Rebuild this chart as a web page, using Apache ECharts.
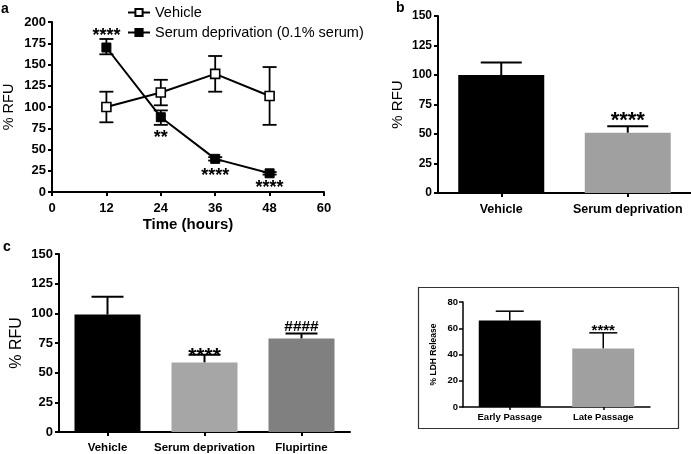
<!DOCTYPE html>
<html><head><meta charset="utf-8">
<script src="https://cdn.jsdelivr.net/npm/echarts@6/dist/echarts.min.js"></script>
<style>html,body{margin:0;padding:0;background:#fff}#c{width:691px;height:454px}</style>
</head><body><div id="c"></div>
<script>
// ---- Panel a: time course ----
const timeHours = [12, 24, 36, 48];
const vehicleMean = [100, 117, 139, 113];
const vehicleLow = [82, 102, 118, 79];
const vehicleHigh = [118, 132, 160, 147];
const serumMean = [170, 88, 39, 22];
const serumLow = [162, 79, 37, 20.5];
const serumHigh = [180, 96, 41, 23.5];
const serumSig = ['****', '**', '****', '****'];
const aXTicks = [0, 12, 24, 36, 48, 60];
// ---- Panel b ----
const bCats = ['Vehicle', 'Serum deprivation'];
const bMean = [100, 51];
const bHigh = [110.5, 56.5];
const bSig = ['', '****'];
// ---- Panel c ----
const cCats = ['Vehicle', 'Serum deprivation', 'Flupirtine'];
const cMean = [99, 58.5, 78.7];
const cHigh = [114, 65, 83];
const cSig = ['', '****', '####'];
// ---- Inset: LDH release ----
const dCats = ['Early Passage', 'Late Passage'];
const dMean = [66, 44.5];
const dHigh = [73, 56.5];
const dSig = ['', '****'];

const FF = '"Liberation Sans", Arial, sans-serif';
const chart = echarts.init(document.getElementById('c'), null, {renderer: 'canvas'});

function axisCommon(lw, fs, margin, extra) {
  return Object.assign({
    axisLine: {show: true, lineStyle: {color: '#000', width: lw}},
    axisTick: {show: true, length: 4, lineStyle: {color: '#000', width: lw}},
    axisLabel: {color: '#000', fontFamily: FF, fontWeight: 'bold', fontSize: fs, margin: margin, interval: 0},
    splitLine: {show: false}
  }, extra);
}

function errBars(capW, lw) {
  return function (params, api) {
    const b = api.coord([api.value(0), api.value(1)]);
    const t = api.coord([api.value(0), api.value(2)]);
    return {type: 'group', children: [
      {type: 'line', shape: {x1: b[0], y1: b[1], x2: t[0], y2: t[1]}, style: {stroke: '#000', lineWidth: lw}},
      {type: 'line', shape: {x1: t[0] - capW / 2, y1: t[1], x2: t[0] + capW / 2, y2: t[1]}, style: {stroke: '#000', lineWidth: lw}}
    ]};
  };
}
function errBarsBoth(capW, lw) {
  return function (params, api) {
    const lo = api.coord([api.value(0), api.value(1)]);
    const hi = api.coord([api.value(0), api.value(2)]);
    return {type: 'group', children: [
      {type: 'line', shape: {x1: lo[0], y1: lo[1], x2: hi[0], y2: hi[1]}, style: {stroke: '#000', lineWidth: lw}},
      {type: 'line', shape: {x1: hi[0] - capW / 2, y1: hi[1], x2: hi[0] + capW / 2, y2: hi[1]}, style: {stroke: '#000', lineWidth: lw}},
      {type: 'line', shape: {x1: lo[0] - capW / 2, y1: lo[1], x2: lo[0] + capW / 2, y2: lo[1]}, style: {stroke: '#000', lineWidth: lw}}
    ]};
  };
}
function sigText(texts, dyFn, fontFn) {
  return function (params, api) {
    const i = params.dataIndex;
    const txt = texts[i];
    if (!txt) return null;
    const p = api.coord([api.value(0), api.value(1)]);
    const f = fontFn(txt, i);
    return {type: 'text', x: p[0], y: p[1] + dyFn(txt, i), style: {
      text: txt, font: f, fill: '#000', align: 'center', verticalAlign: 'middle',
      textAlign: 'center', textVerticalAlign: 'middle'}};
  };
}

const option = {
  animation: false,
  backgroundColor: '#fff',
  textStyle: {fontFamily: FF},
  grid: [
    {left: 50, top: 22, width: 274, height: 170},
    {left: 438, top: 16, width: 253, height: 177},
    {left: 59, top: 254, width: 291, height: 179},
    {left: 463, top: 302, width: 187, height: 105}
  ],
  legend: {
    data: ['Vehicle', 'Serum deprivation (0.1% serum)'],
    orient: 'vertical', left: 122, top: 0, itemGap: 5, itemWidth: 22, itemHeight: 9,
    textStyle: {color: '#000', fontFamily: FF, fontSize: 14.5}
  },
  xAxis: [
    axisCommon(2, 13, 10, {gridIndex: 0, type: 'value', min: 0, max: 60, interval: 12,
      name: 'Time (hours)', nameLocation: 'middle', nameGap: 25,
      nameTextStyle: {color: '#000', fontFamily: FF, fontWeight: 'bold', fontSize: 15}}),
    axisCommon(2, 12.5, 10, {gridIndex: 1, type: 'category', data: bCats, axisTick: {show: true, alignWithLabel: true, length: 4, lineStyle: {color: '#000', width: 2}}}),
    axisCommon(2, 11.5, 10, {gridIndex: 2, type: 'category', data: cCats, axisTick: {show: true, alignWithLabel: true, length: 4, lineStyle: {color: '#000', width: 2}}}),
    axisCommon(1.5, 9.5, 5, {gridIndex: 3, type: 'category', data: dCats, axisTick: {show: true, alignWithLabel: true, length: 3, lineStyle: {color: '#000', width: 1.5}}})
  ],
  yAxis: [
    axisCommon(2, 13, 6, {gridIndex: 0, type: 'value', min: 0, max: 200, interval: 25,
      name: '% RFU', nameLocation: 'middle', nameGap: 36, nameRotate: 90,
      nameTextStyle: {color: '#000', fontFamily: FF, fontSize: 14.5}}),
    axisCommon(2, 12, 6, {gridIndex: 1, type: 'value', min: 0, max: 150, interval: 25,
      name: '% RFU', nameLocation: 'middle', nameGap: 33, nameRotate: 90,
      nameTextStyle: {color: '#000', fontFamily: FF, fontSize: 15}}),
    axisCommon(2, 13, 6, {gridIndex: 2, type: 'value', min: 0, max: 150, interval: 25,
      name: '% RFU', nameLocation: 'middle', nameGap: 34, nameRotate: 90,
      nameTextStyle: {color: '#000', fontFamily: FF, fontSize: 16}}),
    axisCommon(1.5, 9.5, 5, {gridIndex: 3, type: 'value', min: 0, max: 80, interval: 20,
      name: '% LDH Release', nameLocation: 'middle', nameGap: 25, nameRotate: 90,
      nameTextStyle: {color: '#000', fontFamily: FF, fontWeight: 'bold', fontSize: 8.5}})
  ],
  graphic: [
    {type: 'text', left: 1, top: 2, style: {text: 'a', font: 'bold 14px ' + FF, fill: '#000'}},
    {type: 'text', left: 396, top: 1, style: {text: 'b', font: 'bold 14px ' + FF, fill: '#000'}},
    {type: 'text', left: 3, top: 240, style: {text: 'c', font: 'bold 14px ' + FF, fill: '#000'}},
    {type: 'rect', shape: {x: 418.5, y: 287.5, width: 260, height: 141}, style: {fill: 'none', stroke: '#333', lineWidth: 1.2}, z: -1}
  ],
  series: [
    // panel a error bars
    {type: 'custom', xAxisIndex: 0, yAxisIndex: 0, z: 1, renderItem: errBarsBoth(14, 1.8),
      encode: {x: 0, y: [1, 2]},
      data: timeHours.map((t, i) => [t, vehicleLow[i], vehicleHigh[i]])},
    {type: 'custom', xAxisIndex: 0, yAxisIndex: 0, z: 1, renderItem: errBarsBoth(14, 1.8),
      encode: {x: 0, y: [1, 2]},
      data: timeHours.map((t, i) => [t, serumLow[i], serumHigh[i]])},
    {name: 'Vehicle', type: 'line', xAxisIndex: 0, yAxisIndex: 0, z: 3,
      symbol: 'rect', symbolSize: 9, showSymbol: true,
      lineStyle: {color: '#000', width: 2}, itemStyle: {color: '#fff', borderColor: '#000', borderWidth: 1.6},
      data: timeHours.map((t, i) => [t, vehicleMean[i]])},
    {name: 'Serum deprivation (0.1% serum)', type: 'line', xAxisIndex: 0, yAxisIndex: 0, z: 3,
      symbol: 'rect', symbolSize: 9, showSymbol: true,
      lineStyle: {color: '#000', width: 2}, itemStyle: {color: '#000', borderColor: '#000', borderWidth: 1},
      data: timeHours.map((t, i) => [t, serumMean[i]])},
    {type: 'custom', xAxisIndex: 0, yAxisIndex: 0, z: 4,
      renderItem: sigText(serumSig, (s, i) => i === 0 ? -3 : (i === 2 ? 15 : 13), () => 'bold 18px ' + FF),
      encode: {x: 0, y: 1},
      data: timeHours.map((t, i) => [t, i === 0 ? serumHigh[i] : serumLow[i]])},
    // panel b
    {type: 'bar', xAxisIndex: 1, yAxisIndex: 1, barWidth: 86, z: 2,
      data: bMean.map((v, i) => ({value: v, itemStyle: {color: i === 0 ? '#000' : '#a0a0a0'}}))},
    {type: 'custom', xAxisIndex: 1, yAxisIndex: 1, z: 1, renderItem: errBars(41, 2),
      encode: {x: 0, y: [1, 2]},
      data: bCats.map((c, i) => [i, bMean[i], bHigh[i]])},
    {type: 'custom', xAxisIndex: 1, yAxisIndex: 1, z: 4,
      renderItem: sigText(bSig, () => -5, () => 'bold 22px ' + FF),
      encode: {x: 0, y: 1},
      data: bCats.map((c, i) => [i, bHigh[i]])},
    // panel c
    {type: 'bar', xAxisIndex: 2, yAxisIndex: 2, barWidth: 66, z: 2,
      data: cMean.map((v, i) => ({value: v, itemStyle: {color: ['#000', '#a6a6a6', '#808080'][i]}}))},
    {type: 'custom', xAxisIndex: 2, yAxisIndex: 2, z: 1, renderItem: errBars(32, 2),
      encode: {x: 0, y: [1, 2]},
      data: cCats.map((c, i) => [i, cMean[i], cHigh[i]])},
    {type: 'custom', xAxisIndex: 2, yAxisIndex: 2, z: 4,
      renderItem: sigText(cSig, (s) => s[0] === '#' ? -7 : 1, (s) => s[0] === '#' ? 'bold 15.5px ' + FF : 'bold 21px ' + FF),
      encode: {x: 0, y: 1},
      data: cCats.map((c, i) => [i, cHigh[i]])},
    // inset
    {type: 'bar', xAxisIndex: 3, yAxisIndex: 3, barWidth: 62, z: 2,
      data: dMean.map((v, i) => ({value: v, itemStyle: {color: i === 0 ? '#000' : '#a0a0a0'}}))},
    {type: 'custom', xAxisIndex: 3, yAxisIndex: 3, z: 1, renderItem: errBars(28, 1.5),
      encode: {x: 0, y: [1, 2]},
      data: dCats.map((c, i) => [i, dMean[i], dHigh[i]])},
    {type: 'custom', xAxisIndex: 3, yAxisIndex: 3, z: 4,
      renderItem: sigText(dSig, () => -2, () => 'bold 15px ' + FF),
      encode: {x: 0, y: 1},
      data: dCats.map((c, i) => [i, dHigh[i]])}
  ]
};
chart.setOption(option);
</script></body></html>
